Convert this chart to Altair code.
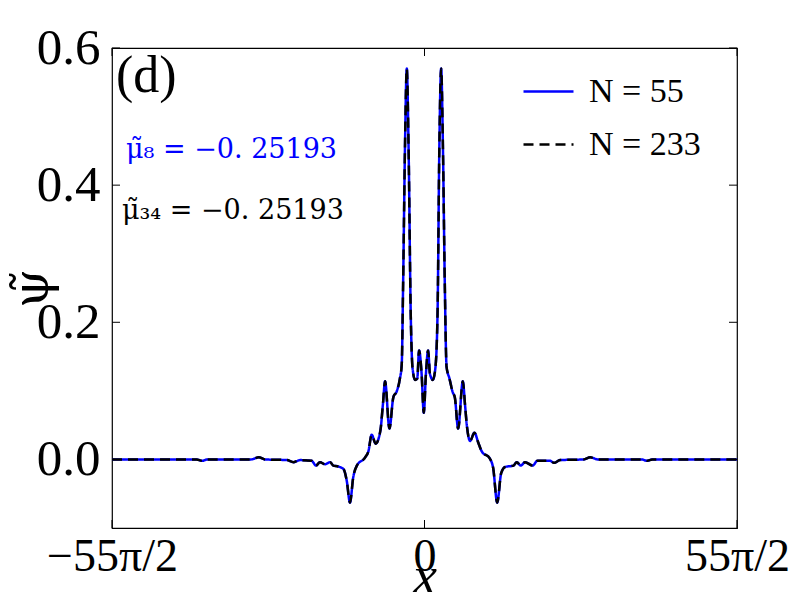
import altair as alt
import pandas as pd
import math

# x positions (same grid for both series)
x_vals = [-86.39, -70, -63, -61.5, -60, -48, -45.8, -44, -38, -36.2, -34.4, -31.2, -30.0, -28.9,
          -27.5, -26.1, -25.2, -24.1, -22.4, -21.5, -20.6, -19.7, -18.7, -16.4, -15.5, -14.6,
          -13.5, -12.2, -11.5, -10.9, -9.7, -8.6, -7.7, -6.8, -6.3, -5.9, -5.4, -4.9, -4.4,
          -3.8, -3.3, -2.6, -2.0, -1.5, -0.8, -0.2, 0.4, 1.0, 1.5, 2.3, 3.0, 3.6, 4.1, 4.6,
          5.1, 5.6, 6.1, 6.9, 7.8, 8.4, 9.3, 10.6, 11.2, 11.7, 12.6, 13.8, 14.9, 15.8, 18.1,
          19.0, 20.1, 21.2, 22.3, 24.6, 25.5, 26.6, 27.8, 29.9, 31.2, 34.7, 35.8, 37.5, 44,
          45.8, 48, 60, 61.5, 63, 70, 86.39]

psi_N55 = [0.0, 0.0, 0.0, -0.002, 0.0, 0.0, 0.003, 0.0, -0.001, -0.004, -0.001, -0.002, -0.009,
           -0.004, -0.007, -0.004, -0.009, -0.010, -0.014, -0.031, -0.063, -0.026, -0.009,
           0.003, 0.012, 0.036, 0.023, 0.042, 0.080, 0.114, 0.045, 0.091, 0.099, 0.118, 0.138,
           0.260, 0.454, 0.570, 0.454, 0.211, 0.133, 0.116, 0.118, 0.159, 0.125, 0.068, 0.125,
           0.159, 0.125, 0.116, 0.133, 0.211, 0.454, 0.570, 0.454, 0.260, 0.135, 0.118, 0.098,
           0.090, 0.045, 0.114, 0.080, 0.050, 0.027, 0.039, 0.024, 0.012, 0.001, -0.013,
           -0.063, -0.020, -0.011, -0.009, -0.004, -0.009, -0.004, -0.009, -0.002, -0.002,
           -0.005, -0.001, 0.0, 0.003, 0.0, 0.0, -0.002, 0.0, 0.0, 0.0]

psi_N233 = [0.0, 0.0, 0.0, -0.002, 0.0, 0.0, 0.003, 0.0, -0.001, -0.004, -0.001, -0.002, -0.009,
            -0.004, -0.007, -0.004, -0.009, -0.010, -0.014, -0.031, -0.063, -0.026, -0.009,
            0.003, 0.012, 0.036, 0.023, 0.042, 0.080, 0.114, 0.045, 0.091, 0.099, 0.118, 0.138,
            0.260, 0.454, 0.570, 0.454, 0.211, 0.133, 0.116, 0.118, 0.159, 0.125, 0.068, 0.125,
            0.159, 0.125, 0.116, 0.133, 0.211, 0.454, 0.570, 0.454, 0.260, 0.135, 0.118, 0.098,
            0.090, 0.045, 0.114, 0.080, 0.050, 0.027, 0.039, 0.024, 0.012, 0.001, -0.013,
            -0.063, -0.020, -0.011, -0.009, -0.004, -0.009, -0.004, -0.009, -0.002, -0.002,
            -0.005, -0.001, 0.0, 0.003, 0.0, 0.0, -0.002, 0.0, 0.0, 0.0]

series_names = ["N = 55", "N = 233"]
series_colors = ["#0000ff", "#000000"]

XMAX = 55 * math.pi / 2
x_ticks = [-XMAX, 0, XMAX]
y_ticks = [0.0, 0.2, 0.4, 0.6]

W, H = 625, 480
FONT = "Liberation Serif"
MFONT = "DejaVu Serif"

df55 = pd.DataFrame({"x": x_vals, "psi": psi_N55, "series": series_names[0]})
df233 = pd.DataFrame({"x": x_vals, "psi": psi_N233, "series": series_names[1]})

xscale = alt.Scale(domain=[-XMAX, XMAX], nice=False, zero=False)
yscale = alt.Scale(domain=[-0.1, 0.6], nice=False, zero=False)
color_scale = alt.Scale(domain=series_names, range=series_colors)
dash_scale = alt.Scale(domain=series_names, range=[[1, 0], [10, 6]])

xaxis = alt.Axis(values=x_ticks, ticks=False, domain=False, grid=False,
                 labelExpr="datum.value < -1 ? '\u221255\u03c0/2' : (datum.value > 1 ? '55\u03c0/2' : '0')",
                 labelFont=FONT, labelFontSize=46, labelColor="black", labelPadding=6,
                 labelFlush=False, title="x", titleFont=FONT, titleFontSize=54,
                 titleFontStyle="italic", titleFontWeight="normal", titleColor="black",
                 titlePadding=-29)
yaxis = alt.Axis(values=y_ticks, format=".1f", ticks=False, domain=False, grid=False,
                 labelFont=FONT, labelFontSize=51, labelColor="black", labelPadding=12,
                 labelFlush=False, title="\u03c8\u0303", titleFont=MFONT, titleFontSize=50,
                 titleFontStyle="normal", titleFontWeight="normal", titleColor="black",
                 titlePadding=-21)

legend = alt.Legend(title=None, orient="none", legendX=410, legendY=17,
                    symbolType="stroke", symbolSize=2500, symbolStrokeWidth=2.5,
                    labelFont=FONT, labelFontSize=34, labelColor="black", labelOffset=14,
                    rowPadding=9, padding=0)

def line_layer(df):
    return alt.Chart(df).mark_line(strokeWidth=2.5, interpolate="monotone", clip=True).encode(
        x=alt.X("x:Q", scale=xscale, axis=xaxis),
        y=alt.Y("psi:Q", scale=yscale, axis=yaxis),
        color=alt.Color("series:N", scale=color_scale, legend=legend, sort=series_names),
        strokeDash=alt.StrokeDash("series:N", scale=dash_scale, legend=legend, sort=series_names),
    )

blue = line_layer(df55)
black = line_layer(df233)

# inward ticks on all four sides
ytk = pd.DataFrame({"v": y_ticks})
xtk = pd.DataFrame({"v": x_ticks})
tick_left = alt.Chart(ytk).mark_rule(color="black", strokeWidth=1).encode(
    y=alt.Y("v:Q", scale=yscale), x=alt.value(0), x2=alt.value(8))
tick_right = alt.Chart(ytk).mark_rule(color="black", strokeWidth=1).encode(
    y=alt.Y("v:Q", scale=yscale), x=alt.value(W - 8), x2=alt.value(W))
tick_bottom = alt.Chart(xtk).mark_rule(color="black", strokeWidth=1).encode(
    x=alt.X("v:Q", scale=xscale), y=alt.value(H - 8), y2=alt.value(H))
tick_top = alt.Chart(xtk).mark_rule(color="black", strokeWidth=1).encode(
    x=alt.X("v:Q", scale=xscale), y=alt.value(0), y2=alt.value(8))

def label(txt, color, size, xpx, ypx, font=FONT, align="left"):
    return alt.Chart(pd.DataFrame({"t": [txt]})).mark_text(
        font=font, fontSize=size, color=color, align=align, baseline="middle").encode(
        text="t:N", x=alt.value(xpx), y=alt.value(ypx))

lab_d = label("(d)", "black", 52, 4, 28)
lab_mu8 = label("\u03bc\u0303\u2088 = \u22120. 25193", "#0000ff", 27, 14, 102, font=MFONT)
lab_mu34 = label("\u03bc\u0303\u2083\u2084 = \u22120. 25193", "black", 27, 10, 163, font=MFONT)

chart = alt.layer(
    blue, black, tick_left, tick_right, tick_bottom, tick_top, lab_d, lab_mu8, lab_mu34
).properties(
    width=W, height=H,
    background="white",
    autosize=alt.AutoSizeParams(type="none"),
    padding={"left": 104, "top": 40, "right": 55, "bottom": 64},
).configure_view(stroke="black", strokeWidth=1.2)

chart.save("out.html", embed_options={"renderer": "svg", "actions": False})
